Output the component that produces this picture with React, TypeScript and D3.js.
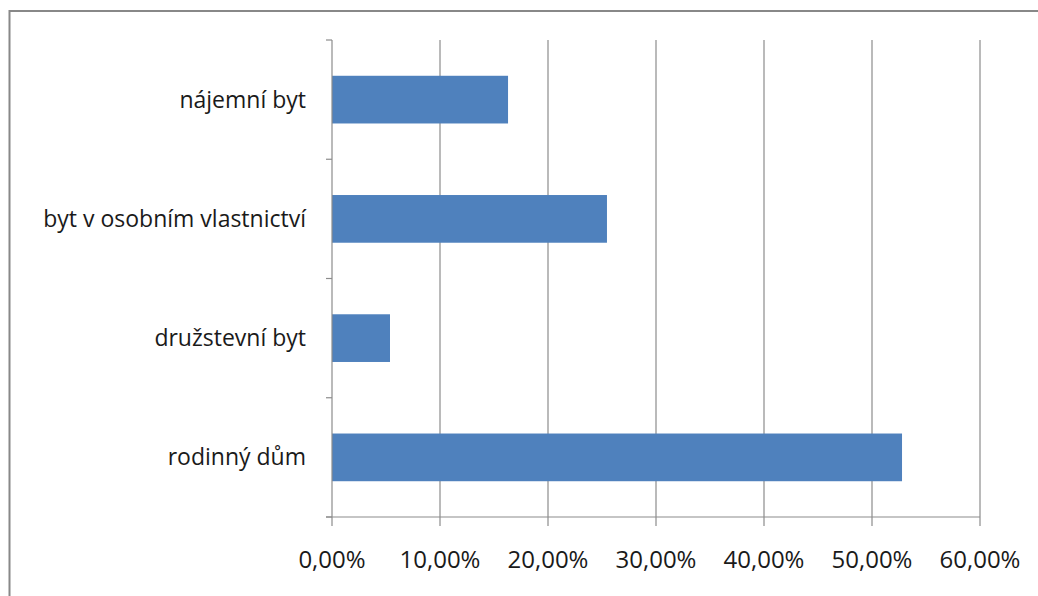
import React from "react";
import * as d3 from "d3";

const categories = ["nájemní byt", "byt v osobním vlastnictví", "družstevní byt", "rodinný dům"];
const values = [0.163, 0.2546, 0.0537, 0.5278];
const xTicks = [0, 0.1, 0.2, 0.3, 0.4, 0.5, 0.6];

const W = 1038;
const H = 596;
const left = 332;
const right = 980;
const top = 40;
const bottom = 517;
const FONT = "'Open Sans', sans-serif";

export default function App() {
  const x = d3.scaleLinear().domain([0, 0.6]).range([left, right]);
  const y = d3.scaleBand<string>().domain(categories).range([top, bottom]).paddingInner(0.6).paddingOuter(0.3);
  const band = (bottom - top) / categories.length;
  const fmt = (v: number) => (v * 100).toFixed(2).replace(".", ",") + "%";
  return (
    <svg width={W} height={H} style={{ position: "absolute", left: 0, top: 0, background: "#fff" }}>
      <rect x={9.5} y={11} width={W + 10} height={H + 10} fill="#fff" stroke="#888" strokeWidth={2} />
      {xTicks.map((t) => (
        <g key={t}>
          {t > 0 && <line x1={x(t)} x2={x(t)} y1={top} y2={bottom} stroke="#8c8c8c" strokeWidth={1.2} />}
          <line x1={x(t)} x2={x(t)} y1={bottom} y2={bottom + 9} stroke="#8c8c8c" strokeWidth={1.2} />
          <text x={x(t)} y={568} textAnchor="middle" fontFamily={FONT} fontSize={24} fill="#1a1a1a">
            {fmt(t)}
          </text>
        </g>
      ))}
      {categories.map((c, i) => (
        <rect key={c} x={x(0)} y={y(c)} width={x(values[i]) - x(0)} height={y.bandwidth()} fill="#4f81bd" />
      ))}
      <line x1={left} x2={left} y1={top} y2={bottom} stroke="#8c8c8c" strokeWidth={1.2} />
      <line x1={left - 6} x2={right} y1={bottom} y2={bottom} stroke="#8c8c8c" strokeWidth={1.2} />
      {d3.range(categories.length + 1).map((i) => (
        <line key={i} x1={left - 6} x2={left} y1={top + i * band} y2={top + i * band} stroke="#8c8c8c" strokeWidth={1.2} />
      ))}
      {categories.map((c) => (
        <text key={c} x={306} y={(y(c) as number) + y.bandwidth() / 2 + 8} textAnchor="end" fontFamily={FONT} fontSize={23} fill="#1a1a1a">
          {c}
        </text>
      ))}
    </svg>
  );
}
